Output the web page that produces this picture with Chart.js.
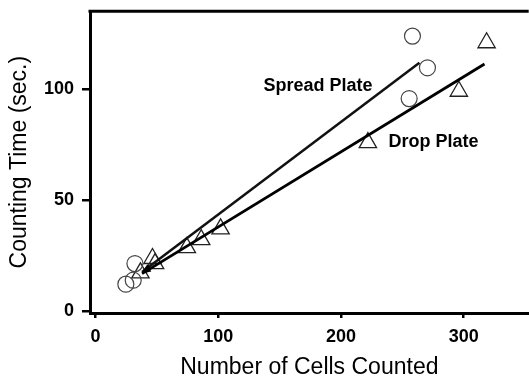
<!DOCTYPE html>
<html lang="en">
<head>
  <meta charset="UTF-8">
  <title>Counting time vs cells counted</title>
  <script src="https://cdn.jsdelivr.net/npm/chart.js"></script>
  <style>
    body { margin: 0; background: #fff; overflow: hidden; }
    #wrap { width: 529px; height: 378px; overflow: hidden; }
    #box { width: 540px; height: 378px; }
  </style>
</head>
<body>
<div id="wrap"><div id="box"><canvas id="countChart"></canvas></div></div>
<script>
  // spread plate (circles)
  const spreadX = [24.8, 30.8, 32.2, 255.6, 258.3, 270.5];
  const spreadY = [12.0, 13.8, 21.3, 95.8, 124.0, 109.7];
  // drop plate (triangles)
  const dropX = [36.7, 46.5, 48.6, 74.5, 86.2, 102, 222, 296.1, 318.7];
  const dropY = [17.1, 23.6, 21.3, 28.5, 32.1, 37.0, 75.9, 99.1, 121.0];
  // fitted lines, end points
  const spreadFitX = [38, 264];
  const spreadFitY = [17.5, 112];
  const dropFitX = [38, 317];
  const dropFitY = [16.8, 111.4];

  const xTicks = [0, 100, 200, 300];
  const yTicks = [0, 50, 100];

  const lineLabels = [
    { text: 'Spread Plate', x: 137, y: 101.5 },
    { text: 'Drop Plate', x: 238.7, y: 76.4 }
  ];

  function pts(xs, ys) {
    return xs.map((x, i) => ({ x: x, y: ys[i] }));
  }

  const extras = {
    id: 'extras',
    afterDraw(chart) {
      const ctx = chart.ctx;
      const a = chart.chartArea;
      const xs = chart.scales.x, ys = chart.scales.y;
      ctx.save();
      // top frame line
      ctx.strokeStyle = '#000';
      ctx.lineWidth = 3;
      ctx.beginPath();
      ctx.moveTo(a.left - 1.5, a.top);
      ctx.lineTo(a.right, a.top);
      ctx.stroke();
      // arrowheads at the lower ends of the fit lines
      [[spreadFitX, spreadFitY], [dropFitX, dropFitY]].forEach(f => {
        const x0 = xs.getPixelForValue(f[0][0]), y0 = ys.getPixelForValue(f[1][0]);
        const x1 = xs.getPixelForValue(f[0][1]), y1 = ys.getPixelForValue(f[1][1]);
        const ang = Math.atan2(y0 - y1, x0 - x1);
        ctx.fillStyle = '#000';
        ctx.beginPath();
        ctx.moveTo(x0, y0);
        ctx.lineTo(x0 - 9 * Math.cos(ang) + 3 * Math.sin(ang), y0 - 9 * Math.sin(ang) - 3 * Math.cos(ang));
        ctx.lineTo(x0 - 9 * Math.cos(ang) - 3 * Math.sin(ang), y0 - 9 * Math.sin(ang) + 3 * Math.cos(ang));
        ctx.closePath();
        ctx.fill();
      });
      // line labels
      ctx.font = 'bold 18px "Liberation Sans", Arial, sans-serif';
      ctx.fillStyle = '#000';
      ctx.textAlign = 'left';
      ctx.textBaseline = 'middle';
      lineLabels.forEach(l => {
        ctx.fillText(l.text, xs.getPixelForValue(l.x), ys.getPixelForValue(l.y));
      });
      ctx.restore();
    }
  };

  const ctx = document.getElementById('countChart').getContext('2d');
  new Chart(ctx, {
    type: 'scatter',
    data: {
      datasets: [
        {
          label: 'Spread Plate fit',
          type: 'line',
          data: pts(spreadFitX, spreadFitY),
          borderColor: '#111',
          borderWidth: 2.5,
          pointRadius: 0,
          fill: false
        },
        {
          label: 'Drop Plate fit',
          type: 'line',
          data: pts(dropFitX, dropFitY),
          borderColor: '#000',
          borderWidth: 2.8,
          pointRadius: 0,
          fill: false
        },
        {
          label: 'Spread Plate',
          data: pts(spreadX, spreadY),
          pointStyle: 'circle',
          pointRadius: 8,
          borderColor: '#444',
          borderWidth: 1.2,
          backgroundColor: 'rgba(0,0,0,0)'
        },
        {
          label: 'Drop Plate',
          data: pts(dropX, dropY),
          pointStyle: 'triangle',
          pointRadius: 10,
          borderColor: '#222',
          borderWidth: 1.3,
          backgroundColor: 'rgba(0,0,0,0)'
        }
      ]
    },
    options: {
      responsive: true,
      maintainAspectRatio: false,
      animation: false,
      layout: { padding: { top: 10, left: 0, right: 0, bottom: 0 } },
      plugins: {
        legend: { display: false },
        tooltip: { enabled: false }
      },
      scales: {
        x: {
          type: 'linear',
          min: -4.4,
          max: 353,
          afterBuildTicks: s => { s.ticks = xTicks.map(v => ({ value: v })); },
          afterFit: s => { s.height = 65; s.paddingLeft = 0; s.paddingRight = 0; },
          border: { display: true, color: '#000', width: 3 },
          grid: { drawOnChartArea: false, drawTicks: true, tickLength: 5, color: '#000', lineWidth: 2.5 },
          ticks: {
            color: '#000',
            padding: 8,
            font: { family: '"Liberation Sans", Arial, sans-serif', size: 18, weight: 'bold' }
          },
          title: {
            display: true,
            text: 'Number of Cells Counted',
            color: '#000',
            padding: { top: 0, bottom: 0 },
            font: { family: '"Liberation Sans", Arial, sans-serif', size: 23, lineHeight: 0.9 }
          }
        },
        y: {
          type: 'linear',
          min: -1,
          max: 135.2,
          afterBuildTicks: s => { s.ticks = yTicks.map(v => ({ value: v })); },
          afterFit: s => { s.width = 90; s.paddingTop = 0; s.paddingBottom = 0; },
          border: { display: true, color: '#000', width: 3 },
          grid: { drawOnChartArea: false, drawTicks: true, tickLength: 8, color: '#000', lineWidth: 2.5 },
          ticks: {
            color: '#000',
            padding: 8,
            font: { family: '"Liberation Sans", Arial, sans-serif', size: 18, weight: 'bold' }
          },
          title: {
            display: true,
            text: 'Counting Time (sec.)',
            color: '#000',
            padding: { top: 6, bottom: 0 },
            font: { family: '"Liberation Sans", Arial, sans-serif', size: 23 }
          }
        }
      }
    },
    plugins: [extras]
  });
</script>
</body>
</html>
